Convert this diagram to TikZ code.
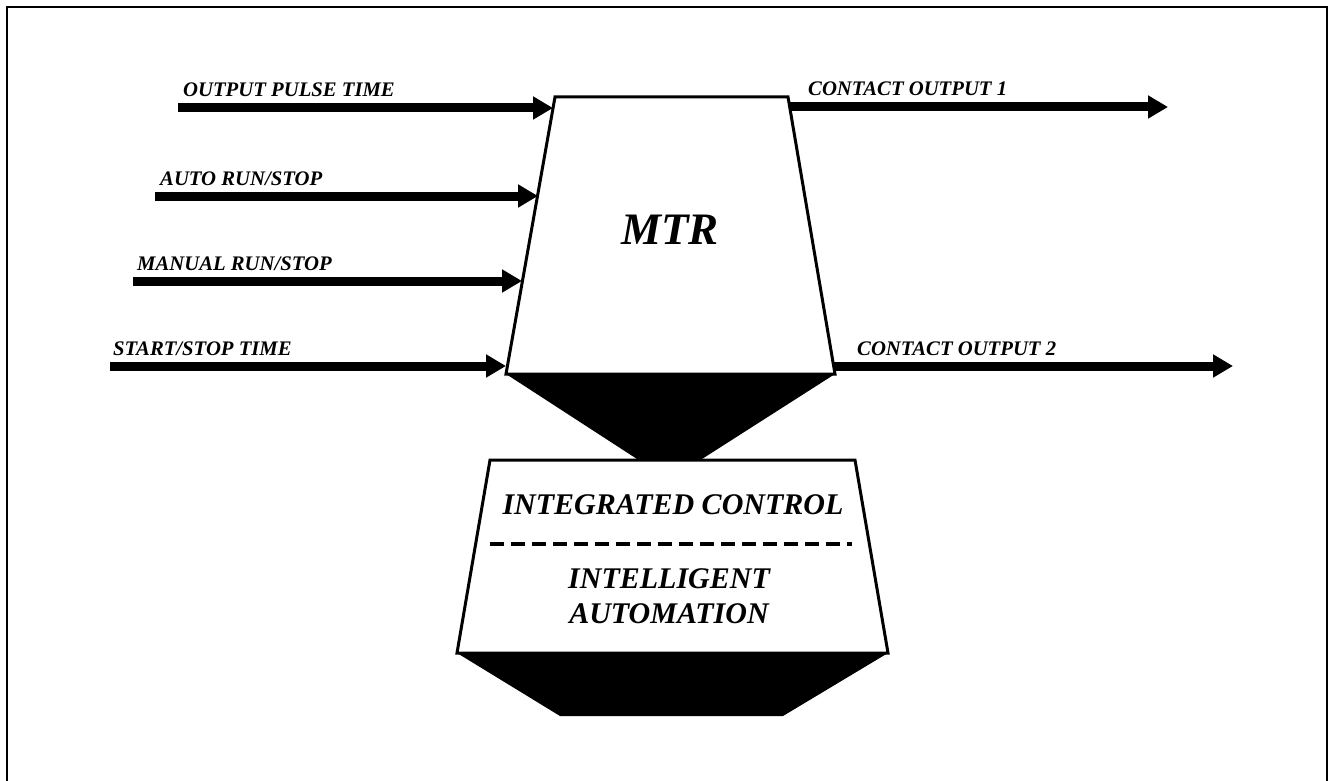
\documentclass[tikz,border=0pt]{standalone}
\usepackage{fontspec}
\setmainfont{Liberation Serif}
\usetikzlibrary{arrows.meta}
\begin{document}
\begin{tikzpicture}[x=1pt,y=-1pt,
  lbl/.style={inner sep=0pt,anchor=base west,font=\bfseries\itshape\fontsize{20.7}{24}\selectfont},
  big/.style={inner sep=0pt,font=\bfseries\itshape\fontsize{30}{35}\selectfont},
  fatarrow/.style={line width=9pt,-{Triangle[length=20pt,width=22pt]}},
  outline/.style={line width=3pt,line join=miter}]
\useasboundingbox (0,0) rectangle (1333,781);
% frame
\draw[line width=2.5pt] (7,800) -- (7,7) -- (1327,7) -- (1327,800);
% MTR trapezoid corners
\coordinate (tl) at (555,97);
\coordinate (tr) at (788,97);
\coordinate (bl) at (506,374);
\coordinate (br) at (835,374);
% funnel
\coordinate (fl) at (637,459);
\coordinate (fr) at (702,459);
\fill (bl) -- (br) -- (fr) -- (fl) -- cycle;
\draw[outline,fill=white] (tl) -- (tr) -- (br) -- (bl) -- cycle;
\node[inner sep=0pt,font=\bfseries\itshape\fontsize{45}{52}\selectfont] (mtr) at (670,230) {MTR};
% lower box
\coordinate (ltl) at (490,460);
\coordinate (ltr) at (855,460);
\coordinate (lbl) at (457,653);
\coordinate (lbr) at (888,653);
\coordinate (sbl) at (560,716);
\coordinate (sbr) at (783,716);
\fill (lbl) -- (lbr) -- (sbr) -- (sbl) -- cycle;
\draw[outline,fill=white] (ltl) -- (ltr) -- (lbr) -- (lbl) -- cycle;
\node[big] (ic) at (673,505) {INTEGRATED CONTROL};
\coordinate (dl) at (490,544);
\coordinate (dr) at (852,544);
\draw[line width=4pt,dash pattern=on 14pt off 7pt] (dl) -- (dr);
\node[big,align=center] (ia) at (669,596) {INTELLIGENT\\[0pt]AUTOMATION};
% input arrows
\coordinate (s1) at (178,108); \coordinate (e1) at (553,108);
\coordinate (s2) at (155,196); \coordinate (e2) at (538,196);
\coordinate (s3) at (133,281); \coordinate (e3) at (522,281);
\coordinate (s4) at (110,366); \coordinate (e4) at (506,366);
\draw[fatarrow] (s1) -- (e1);
\draw[fatarrow] (s2) -- (e2);
\draw[fatarrow] (s3) -- (e3);
\draw[fatarrow] (s4) -- (e4);
\node[lbl] (l1) at (183,97) {OUTPUT PULSE TIME};
\node[lbl] (l2) at (160,185) {AUTO RUN/STOP};
\node[lbl] (l3) at (137,270) {MANUAL RUN/STOP};
\node[lbl] (l4) at (113,355) {START/STOP TIME};
% output arrows
\coordinate (o1s) at (789,107); \coordinate (o1e) at (1168,107);
\coordinate (o2s) at (833,366); \coordinate (o2e) at (1233,366);
\draw[fatarrow] (o1s) -- (o1e);
\draw[fatarrow] (o2s) -- (o2e);
\node[lbl] (r1) at (808,96) {CONTACT OUTPUT 1};
\node[lbl] (r2) at (857,355) {CONTACT OUTPUT 2};
\end{tikzpicture}
\end{document}
